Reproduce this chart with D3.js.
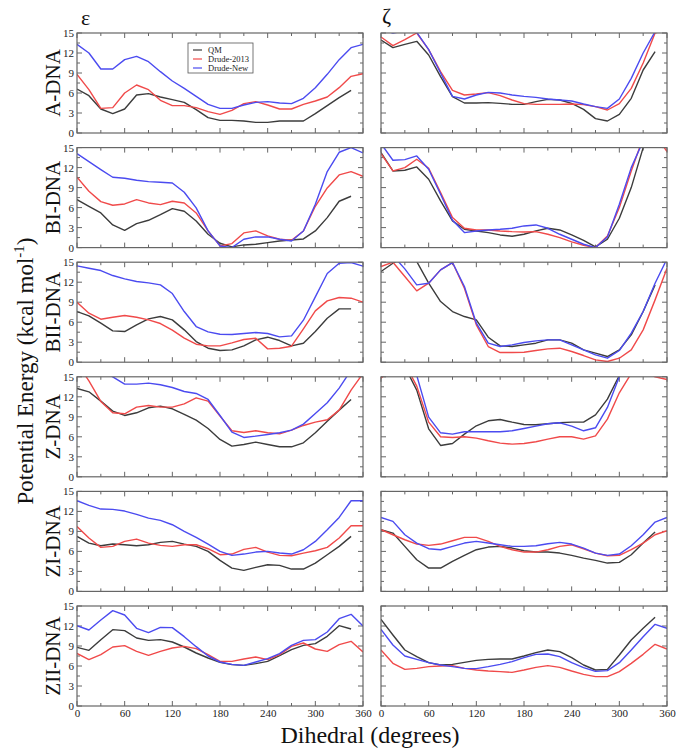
<!DOCTYPE html>
<html><head><meta charset="utf-8">
<script src="https://cdn.jsdelivr.net/npm/d3@7"></script>
<style>
body{margin:0;background:#fff;}
svg{display:block;font-family:"Liberation Serif","Times New Roman",serif;}
</style></head>
<body><div id="chart"></div>
<script>
// ---------- data ----------
const dihedral = [0,15,30,45,60,75,90,105,120,135,150,165,180,195,210,225,240,255,270,285,300,315,330,345,360];
const xTicks = [0,60,120,180,240,300,360];
const yTicks = [0,3,6,9,12,15];
const rowNames = ["A-DNA","BI-DNA","BII-DNA","Z-DNA","ZI-DNA","ZII-DNA"];
const colNames = ["ε","ζ"];
const seriesNames = ["QM","Drude-2013","Drude-New"];

// epsilon
const epsA_QM  = [6.6,5.6,3.6,2.9,3.6,5.7,5.9,5.4,5.0,4.6,3.5,2.3,1.9,1.9,1.8,1.6,1.6,1.8,1.8,1.8,2.9,4.1,5.3,6.4];
const epsA_D13 = [8.8,6.5,3.7,3.8,6.0,7.2,6.5,4.9,4.1,4.1,3.8,3.2,2.8,3.4,4.4,4.7,4.2,3.6,3.6,4.3,4.8,5.4,6.8,8.5,8.9];
const epsA_New = [13.3,12.0,9.6,9.6,11.0,11.5,10.7,9.2,7.8,6.7,5.5,4.3,3.7,3.7,4.2,4.6,4.7,4.5,4.4,5.2,6.8,8.8,11.0,12.8,13.3];

const epsBI_QM  = [7.2,6.2,5.2,3.4,2.6,3.6,4.1,4.95,5.85,5.45,4.0,2.0,0.65,0.1,0.4,0.5,0.75,1.0,1.15,1.3,2.5,4.5,6.95,7.7];
const epsBI_D13 = [10.55,8.45,6.9,6.35,6.55,7.2,6.7,6.45,6.95,6.7,5.2,2.5,0.25,0.6,2.2,2.5,1.75,1.25,1.1,2.5,6.2,8.95,10.9,11.4,10.7];
const epsBI_New = [14.1,12.9,11.7,10.55,10.4,10.1,9.9,9.8,9.7,8.3,5.95,2.5,0.25,0.0,1.25,1.6,1.6,1.25,1.0,2.5,6.5,11.4,14.3,15.0,14.2];

const epsBII_QM  = [7.6,6.95,5.85,4.7,4.6,5.6,6.5,6.85,6.35,4.85,3.1,2.1,1.75,1.85,2.45,3.35,3.75,3.25,2.45,2.85,4.6,6.6,8.0,8.0];
const epsBII_D13 = [9.0,7.35,6.45,6.75,7.0,6.75,6.35,5.8,4.8,3.6,2.7,2.45,2.45,2.9,3.4,3.6,2.0,2.1,2.4,5.0,7.7,9.2,9.7,9.6,9.0];
const epsBII_New = [14.45,14.1,13.75,13.0,12.5,12.1,11.9,11.6,10.3,7.6,5.35,4.55,4.2,4.15,4.3,4.45,4.3,3.8,3.95,6.3,9.8,13.3,14.85,14.95,14.4];

const epsZ_QM  = [13.25,12.75,11.35,9.85,9.2,9.6,10.35,10.6,10.2,9.35,8.5,7.25,5.6,4.6,4.85,5.2,4.85,4.5,4.5,5.1,6.6,8.35,10.0,11.6];
const epsZ_D13 = [17,14.4,11.3,9.6,9.45,10.45,10.7,10.45,10.45,10.95,11.85,11.35,9.1,6.9,6.65,6.9,6.6,6.45,7.0,7.7,8.2,8.55,10.0,13.0,15.5];
const epsZ_New = [17,16.5,16,15.0,13.9,13.9,14.05,13.8,13.4,12.8,12.5,11.6,9.2,6.7,5.9,6.1,6.35,6.6,7.0,7.9,9.5,11.1,13.3,16,18];

const epsZI_QM  = [8.25,7.25,6.85,7.1,7.0,6.85,7.0,7.35,7.5,7.1,6.75,6.0,4.65,3.5,3.15,3.6,4.0,3.9,3.35,3.35,4.25,5.5,6.75,8.25];
const epsZI_D13 = [9.75,8.0,6.6,6.75,7.5,7.85,7.25,6.9,6.75,7.0,7.0,6.4,5.5,5.6,6.3,6.6,5.9,5.4,5.35,5.75,6.1,6.6,8.0,9.85,9.85];
const epsZI_New = [13.6,12.9,12.35,12.3,12.05,11.55,11.0,10.65,10.0,9.0,8.1,7.1,6.0,5.4,5.6,5.9,6.0,5.75,5.6,6.25,7.5,9.25,11.1,13.6,13.6];

const epsZII_QM  = [8.8,8.35,9.95,11.45,11.3,10.2,9.85,9.95,9.6,8.85,7.95,7.2,6.55,6.2,6.1,6.35,6.7,7.55,8.45,9.1,9.35,10.45,12.05,11.55];
const epsZII_D13 = [7.9,6.95,7.7,8.85,9.05,8.2,7.6,8.2,8.7,8.95,8.6,7.7,6.7,6.7,7.05,7.35,6.95,7.7,8.95,9.45,8.55,8.2,9.2,9.7,8.1];
const epsZII_New = [12.05,11.4,12.9,14.3,13.65,11.65,11.0,11.8,11.75,10.4,8.9,7.5,6.6,6.25,6.1,6.6,7.1,7.85,9.1,9.85,9.95,11.1,13.1,13.75,12.0];

// zeta
const zetA_QM  = [13.95,12.8,13.3,13.75,11.7,8.45,5.45,4.5,4.5,4.55,4.45,4.3,4.3,4.7,5.05,4.95,4.45,3.55,2.15,1.8,2.8,5.2,9.45,12.2];
const zetA_D13 = [14.4,13.1,14.0,15.0,12.5,9.2,6.4,5.7,5.85,6.05,5.6,4.95,4.4,4.3,4.3,4.3,4.35,4.25,3.95,3.45,4.4,6.7,10.5,15.0,15.5];
const zetA_New = [15.5,15.0,15.3,15.1,12.5,9.0,5.5,5.1,5.7,6.1,6.0,5.7,5.5,5.35,5.1,4.95,4.8,4.35,3.95,3.7,5.1,8.2,12.0,15.2,16];

const zetBI_QM  = [14.25,11.5,11.6,12.1,10.25,7.0,4.0,2.75,2.5,2.25,1.9,1.7,2.0,2.5,2.9,2.65,1.9,1.1,0.1,1.25,4.4,9.0,15.0,18];
const zetBI_D13 = [14.1,11.5,12.0,13.25,11.9,8.25,4.5,2.9,2.65,2.65,2.5,2.4,2.35,2.4,2.0,1.5,0.85,0.35,0.0,1.75,6.0,11.5,16.5,17,14.4];
const zetBI_New = [15.6,13.1,13.2,13.75,11.75,8.0,4.1,2.25,2.5,2.65,2.75,2.9,3.25,3.4,2.9,2.0,1.25,0.5,0.0,1.6,6.5,12.0,16.0,17,17];

const zetBII_QM  = [13.6,14.85,15.8,15.1,11.85,9.1,7.6,6.85,6.35,3.75,2.45,2.35,2.6,2.85,3.35,3.35,2.85,1.85,1.35,0.85,1.85,4.1,7.6,11.6];
const zetBII_D13 = [14.35,15.0,12.85,10.7,11.85,13.85,14.95,11.1,5.6,2.35,1.45,1.45,1.5,1.75,2.0,2.1,1.6,1.0,0.35,0.1,0.6,1.85,4.85,9.35,14.1];
const zetBII_New = [16.5,16.0,14.0,11.6,11.85,13.85,14.95,11.35,5.85,2.85,2.35,2.6,2.95,3.2,3.35,3.35,2.6,1.85,1.1,0.6,1.75,4.35,7.6,11.85,15.5];

const zetZ_QM  = [17,17,16.5,13.0,7.2,4.7,5.0,6.4,7.65,8.4,8.6,8.2,7.85,7.8,7.95,8.1,8.2,8.2,9.3,11.65,15.2,17,17,17];
const zetZ_D13 = [14.8,16.5,17,13.6,8.2,6.0,5.9,6.0,5.8,5.4,5.05,4.9,5.0,5.25,5.65,6.0,6.0,5.65,6.15,8.65,12.6,15.5,16,15.0,14.6];
const zetZ_New = [17,17,17,15.2,8.95,6.6,6.4,6.75,6.75,6.75,6.75,6.9,7.25,7.6,7.95,8.1,7.6,6.9,7.35,10.4,15.0,17,17,17,17];

const zetZI_QM  = [9.25,8.75,6.75,4.75,3.5,3.5,4.5,5.4,6.25,6.65,6.75,6.5,6.1,5.9,5.9,5.75,5.4,5.0,4.65,4.25,4.35,5.5,7.25,8.9];
const zetZI_D13 = [9.25,8.5,7.75,7.1,6.9,7.1,7.6,8.1,8.1,7.5,6.75,6.25,5.9,5.9,6.25,6.75,7.0,6.4,5.75,5.35,5.4,6.25,7.25,8.5,9.1];
const zetZI_New = [11.1,10.5,8.5,7.25,6.4,6.25,6.75,7.25,7.5,7.25,7.0,6.75,6.75,6.85,7.15,7.35,7.1,6.5,5.75,5.4,5.6,6.85,8.5,10.4,11.1];

const zetZII_QM  = [13.0,10.65,8.4,7.4,6.5,6.15,6.25,6.55,6.85,7.0,7.05,7.05,7.5,8.0,8.4,8.15,7.25,6.15,5.4,5.5,7.65,9.9,11.65,13.3];
const zetZII_D13 = [8.4,6.4,5.5,5.65,5.9,6.0,6.05,5.65,5.4,5.25,5.15,5.05,5.4,5.8,6.05,5.8,5.25,4.75,4.4,4.4,5.15,6.4,7.75,9.25,8.55];
const zetZII_New = [11.5,9.15,7.5,7.0,6.5,6.15,5.9,5.65,5.6,5.9,6.25,6.65,7.25,7.75,7.8,7.4,6.5,5.75,5.2,5.3,6.5,8.4,10.4,12.25,11.65];

const panelData = [
  [[epsA_QM,epsA_D13,epsA_New],[zetA_QM,zetA_D13,zetA_New]],
  [[epsBI_QM,epsBI_D13,epsBI_New],[zetBI_QM,zetBI_D13,zetBI_New]],
  [[epsBII_QM,epsBII_D13,epsBII_New],[zetBII_QM,zetBII_D13,zetBII_New]],
  [[epsZ_QM,epsZ_D13,epsZ_New],[zetZ_QM,zetZ_D13,zetZ_New]],
  [[epsZI_QM,epsZI_D13,epsZI_New],[zetZI_QM,zetZI_D13,zetZI_New]],
  [[epsZII_QM,epsZII_D13,epsZII_New],[zetZII_QM,zetZII_D13,zetZII_New]]
];

// ---------- layout ----------
const W = 682, H = 750;
const colX = [77, 381], pw = 286, ph = 100, top0 = 33, rowStep = 114.6;
const colors = ["#3c3c3c", "#f04a4a", "#4b4bf0"];
const frameColor = "#666";

const svg = d3.select("#chart").append("svg").attr("width", W).attr("height", H);
const defs = svg.append("defs");

const x = d3.scaleLinear().domain([0,360]).range([0,pw]);
const y = d3.scaleLinear().domain([0,15]).range([ph,0]);
const line = d3.line().x(d => x(d[0])).y(d => y(d[1]));

rowNames.forEach((rn, r) => {
  const ty = top0 + r*rowStep;
  colNames.forEach((cn, c) => {
    const g = svg.append("g").attr("transform", `translate(${colX[c]},${ty})`);
    const cid = `clip-${r}-${c}`;
    defs.append("clipPath").attr("id", cid).append("rect")
      .attr("x",0).attr("y",0).attr("width",pw).attr("height",ph);

    // ticks (inward) on all sides
    const minorX = d3.range(0, 361, 30), minorY = d3.range(0, 15.01, 1.5);
    const tk = g.append("g").attr("stroke", frameColor).attr("stroke-width", 1);
    minorX.forEach(v => {
      const len = (v % 60 === 0) ? 5 : 3;
      tk.append("line").attr("x1", x(v)).attr("x2", x(v)).attr("y1", ph).attr("y2", ph-len);
      tk.append("line").attr("x1", x(v)).attr("x2", x(v)).attr("y1", 0).attr("y2", len);
    });
    minorY.forEach(v => {
      const len = (Math.abs(v/3 - Math.round(v/3)) < 1e-6) ? 5 : 3;
      tk.append("line").attr("x1", 0).attr("x2", len).attr("y1", y(v)).attr("y2", y(v));
      tk.append("line").attr("x1", pw).attr("x2", pw-len).attr("y1", y(v)).attr("y2", y(v));
    });

    // y tick labels on left column
    if (c === 0) {
      const ya = d3.axisLeft(y).tickValues(yTicks).tickSize(0).tickPadding(3);
      const ag = g.append("g").call(ya);
      ag.select(".domain").remove();
      ag.selectAll("text").attr("font-size", 11).attr("fill", "#222")
        .attr("font-family", '"Liberation Serif","Times New Roman",serif');
    }
    // x tick labels on bottom row
    if (r === rowNames.length - 1) {
      const xa = d3.axisBottom(x).tickValues(xTicks).tickSize(0).tickPadding(3);
      const ag = g.append("g").attr("transform", `translate(0,${ph})`).call(xa);
      ag.select(".domain").remove();
      ag.selectAll("text").attr("font-size", 11).attr("fill", "#222")
        .attr("font-family", '"Liberation Serif","Times New Roman",serif');
    }

    // lines
    const lg = g.append("g").attr("clip-path", `url(#${cid})`);
    panelData[r][c].forEach((vals, s) => {
      const pts = vals.map((v, i) => [dihedral[i], v]);
      lg.append("path").attr("d", line(pts)).attr("fill", "none")
        .attr("stroke", colors[s]).attr("stroke-width", 1.4).attr("stroke-linejoin", "round");
    });

    // frame
    g.append("rect").attr("width", pw).attr("height", ph).attr("fill", "none")
      .attr("stroke", frameColor).attr("stroke-width", 1.2);

    // row label
    if (c === 0) {
      svg.append("text").attr("transform", `translate(60,${ty + ph/2}) rotate(-90)`)
        .attr("text-anchor", "middle").attr("font-size", 21).attr("fill", "#111").text(rn);
    }
    // legend in first panel
    if (r === 0 && c === 0) {
      const lx = 188 - colX[0], ly = 43 - ty;
      const leg = g.append("g").attr("transform", `translate(${lx},${ly})`);
      leg.append("rect").attr("width", 65).attr("height", 30).attr("fill", "#fff")
        .attr("stroke", "#555").attr("stroke-width", 0.8);
      seriesNames.forEach((sn, i) => {
        const yy = 7 + i*9;
        leg.append("line").attr("x1", 5).attr("x2", 14).attr("y1", yy).attr("y2", yy)
          .attr("stroke", colors[i]).attr("stroke-width", 1.2);
        leg.append("text").attr("x", 20).attr("y", yy + 3).attr("font-size", 8.5)
          .attr("fill", "#222").text(sn);
      });
    }
  });
});

// column headers
svg.append("text").attr("x", 81).attr("y", 25).attr("font-size", 22).attr("fill", "#111").text(colNames[0]);
svg.append("text").attr("x", 382).attr("y", 23).attr("font-size", 22).attr("fill", "#111").text(colNames[1]);

// axis titles
const yl = svg.append("text").attr("transform", "translate(33,371) rotate(-90)")
  .attr("text-anchor", "middle").attr("font-size", 23).attr("fill", "#111");
yl.append("tspan").text("Potential Energy (kcal mol");
yl.append("tspan").attr("font-size", 15).attr("dy", -9).text("-1");
yl.append("tspan").attr("dy", 9).text(")");

svg.append("text").attr("x", 370).attr("y", 743).attr("text-anchor", "middle")
  .attr("font-size", 24).attr("fill", "#111").text("Dihedral (degrees)");
</script>
</body></html>
